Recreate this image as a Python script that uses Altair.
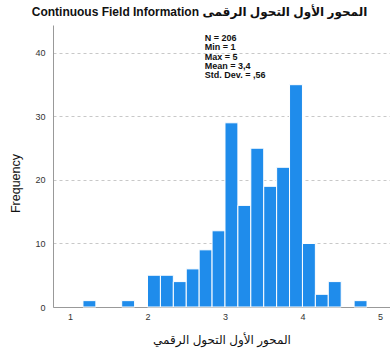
import altair as alt
import numpy as np
import pandas as pd

# Histogram of the composite score: 24 bins of width 1/6 spanning 1..5
bin_lo = 1.0
bin_hi = 5.0
counts = [0, 1, 0, 0, 1, 0,
          5, 5, 4, 6, 9, 12,
          29, 16, 25, 19, 22, 35,
          10, 2, 4, 0, 1, 0]

stats_lines = ["N = 206", "Min = 1", "Max = 5", "Mean = 3,4", "Std. Dev. = ,56"]

title_text = "Continuous Field Information المحور الأول التحول الرقمى"
x_title = "المحور الأول التحول الرقمي"
y_title = "Frequency"

edges = np.linspace(bin_lo, bin_hi, len(counts) + 1)
hist = pd.DataFrame({"start": edges[:-1], "end": edges[1:], "count": counts})
hist = hist[hist["count"] > 0].assign(base=0)

FONT = "Liberation Sans, Arial, DejaVu Sans"

x_scale = alt.Scale(domain=[0.78, 5.13], nice=False, zero=False)
y_scale = alt.Scale(domain=[0, 44.4], nice=False)

bars = alt.Chart(hist).mark_bar(
    color="#1f8ceb", stroke="white", strokeWidth=1
).encode(
    x=alt.X("start:Q", scale=x_scale, axis=alt.Axis(
        title=x_title, values=[1, 2, 3, 4, 5], format="d",
        ticks=False, grid=False, domainColor="#999999",
        labelFontSize=9, labelColor="#333333", labelPadding=5,
        titleFontSize=12, titleFontWeight="normal", titleColor="#111111",
        titlePadding=13, labelFont=FONT, titleFont=FONT)),
    x2="end:Q",
    y=alt.Y("count:Q", scale=y_scale, axis=alt.Axis(
        title=y_title, values=[0, 10, 20, 30, 40], ticks=False,
        grid=True, gridDash=[3, 3], gridColor="#c8c8c8",
        domainColor="#999999", labelFontSize=9, labelColor="#333333",
        labelPadding=8, titleFontSize=12.5, titleFontWeight="normal",
        titleColor="#111111", titleX=-38, titleY=158,
        titleAlign="center", titleBaseline="middle",
        labelFont=FONT, titleFont=FONT)),
    y2="base:Q",
)

stats = alt.Chart(pd.DataFrame({"x": [2.74], "y": [43.0],
                                "t": ["\n".join(stats_lines)]})).mark_text(
    align="left", baseline="top", fontWeight="bold", fontSize=9,
    lineHeight=9.4, font=FONT, color="#111111", lineBreak="\n"
).encode(
    x=alt.X("x:Q", scale=x_scale),
    y=alt.Y("y:Q", scale=y_scale),
    text="t:N",
)

chart = alt.layer(bars, stats).properties(
    width=337,
    height=282,
    title=alt.TitleParams(title_text, anchor="middle", frame="bounds",
                          fontSize=12, fontWeight="bold", font=FONT,
                          color="#111111", offset=6),
    autosize=alt.AutoSizeParams(type="none"),
    padding={"left": 53, "top": 25, "right": 0, "bottom": 45},
).configure_view(stroke=None)

chart.save("out.html", embed_options={"renderer": "svg", "actions": False})
